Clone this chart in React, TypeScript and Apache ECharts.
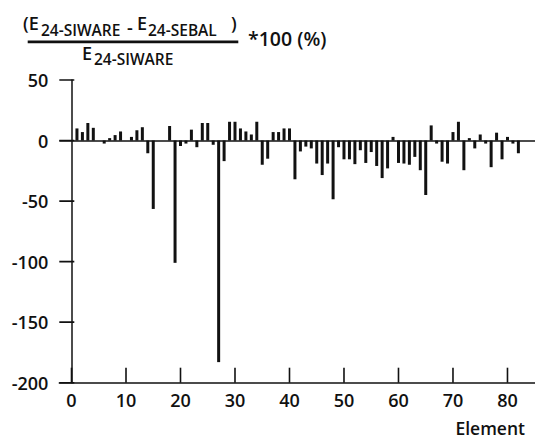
import React, { useEffect, useRef } from "react";
import * as echarts from "echarts";

const elements = [
  1, 2, 3, 4, 5, 6, 7, 8, 9, 10, 11, 12, 13, 14, 15, 16, 17, 18, 19, 20,
  21, 22, 23, 24, 25, 26, 27, 28, 29, 30, 31, 32, 33, 34, 35, 36, 37, 38, 39, 40,
  41, 42, 43, 44, 45, 46, 47, 48, 49, 50, 51, 52, 53, 54, 55, 56, 57, 58, 59, 60,
  61, 62, 63, 64, 65, 66, 67, 68, 69, 70, 71, 72, 73, 74, 75, 76, 77, 78, 79, 80,
  81, 82,
];

const differences = [
  10, 7, 14.5, 10.5, 0, -2.5, 2, 4.5, 7.5, 0,
  3, 8.5, 11, -10.5, -56.5, 0, 0, 12, -101, -4.5,
  -2.5, 9, -5.5, 14.5, 14.5, -3.5, -183, -17, 15.5, 15.5,
  10, 7.5, 5, 15.5, -20, -15, 7, 7, 10, 10,
  -32, -9, -5, -6.5, -19, -28.5, -19, -48.5, -5.5, -15.5,
  -15.5, -19.5, -8, -18.5, -9.5, -21, -31, -23, 3, -18.5,
  -19, -20, -13.5, -24.5, -45, 12.5, -2.5, -17.5, -19, 7,
  15.5, -24.5, 2, -6.5, 5, -2.5, -22, 6.5, -15.5, 3,
  -2.5, -10.5,
];

const xTickValues = [0, 10, 20, 30, 40, 50, 60, 70, 80];
const yTickValues = [50, 0, -50, -100, -150, -200];

const FONT = "'Open Sans', 'Noto Sans', sans-serif";
const INK = "#111";

const X_MIN = -2.24;
const X_MAX = 85.05;
const Y_MIN = -200;
const Y_MAX = 50;

const GRID = { left: 59.3, top: 80, width: 475.7, height: 302.7 };
const TICK_PX = 15;
const TICK_W = 1.6;

function textEl(text: string, x: number, y: number, size: number) {
  return {
    type: "text",
    x,
    y,
    silent: true,
    z: 50,
    style: {
      text,
      x: 0,
      y: 0,
      fontSize: size,
      fontFamily: FONT,
      fontWeight: 600,
      fill: INK,
      verticalAlign: "middle",
      align: "left",
    },
  };
}

export default function App() {
  const ref = useRef<HTMLDivElement>(null);

  useEffect(() => {
    if (!ref.current) return;
    const chart = echarts.init(ref.current, null, { renderer: "svg" });
    const data = elements.map((e, i) => [e, differences[i]]);
    const MAIN = 18;
    const SUB = 15.5;
    const labelStyle = {
      color: INK,
      fontSize: 18,
      fontFamily: FONT,
      fontWeight: 600,
    };

    chart.setOption({
      animation: false,
      backgroundColor: "#fff",
      grid: { ...GRID, containLabel: false },
      xAxis: {
        type: "value",
        min: X_MIN,
        max: X_MAX,
        axisLine: { show: true, onZero: false, lineStyle: { color: INK, width: 1.5 } },
        axisTick: { show: false },
        axisLabel: { ...labelStyle, customValues: xTickValues, margin: 8 },
        splitLine: { show: false },
      },
      yAxis: {
        type: "value",
        min: Y_MIN,
        max: Y_MAX,
        interval: 50,
        axisLine: { show: true, lineStyle: { color: INK, width: 1.5 } },
        axisTick: { show: false },
        axisLabel: { ...labelStyle, margin: 11 },
        splitLine: { show: false },
      },
      series: [
        {
          type: "bar",
          data,
          barWidth: 3,
          itemStyle: { color: INK },
          markLine: {
            silent: true,
            symbol: "none",
            label: { show: false },
            lineStyle: { color: INK, width: 1.5, type: "solid" },
            data: [{ yAxis: 0 }],
          },
        },
      ],
    });

    // inward ticks, located through the chart's own scales
    const toPx = (x: number, y: number): number[] => {
      let p: any = null;
      try {
        p = chart.convertToPixel({ xAxisIndex: 0, yAxisIndex: 0 }, [x, y]);
      } catch (e) {
        p = null;
      }
      if (p && isFinite(p[0]) && isFinite(p[1])) return p as number[];
      return [
        GRID.left + ((x - X_MIN) / (X_MAX - X_MIN)) * GRID.width,
        GRID.top + ((Y_MAX - y) / (Y_MAX - Y_MIN)) * GRID.height,
      ];
    };

    const ticks: any[] = [];
    xTickValues.forEach((v) => {
      const p = toPx(v, Y_MIN);
      ticks.push({
        type: "rect",
        silent: true,
        z: 50,
        shape: { x: p[0] - TICK_W / 2, y: p[1] - TICK_PX, width: TICK_W, height: TICK_PX },
        style: { fill: INK },
      });
    });
    yTickValues.forEach((v) => {
      const p = toPx(X_MIN, v);
      ticks.push({
        type: "rect",
        silent: true,
        z: 50,
        shape: { x: p[0], y: p[1] - TICK_W / 2, width: TICK_PX, height: TICK_W },
        style: { fill: INK },
      });
    });

    chart.setOption({
      graphic: [
        ...ticks,
        textEl("(E", 23, 23, MAIN),
        textEl("24-SIWARE", 41, 30, SUB),
        textEl("-", 127, 27, MAIN),
        textEl("E", 137, 23, MAIN),
        textEl("24-SEBAL", 148, 30, SUB),
        textEl(")", 231, 23, MAIN),
        {
          type: "rect",
          silent: true,
          z: 50,
          shape: { x: 27.7, y: 40.5, width: 210.6, height: 2.8 },
          style: { fill: INK },
        },
        textEl("E", 82, 53, MAIN),
        textEl("24-SIWARE", 94, 59, SUB),
        textEl("*100 (%)", 248, 38, 19.5),
        {
          type: "text",
          silent: true,
          z: 50,
          x: 525,
          y: 428,
          style: {
            text: "Element",
            fontSize: 17.5,
            fontFamily: FONT,
            fontWeight: 600,
            fill: INK,
            align: "right",
            verticalAlign: "middle",
          },
        },
      ],
    });
    return () => chart.dispose();
  }, []);

  return (
    <div
      ref={ref}
      style={{ position: "absolute", left: 0, top: 0, width: 535, height: 440 }}
    />
  );
}
